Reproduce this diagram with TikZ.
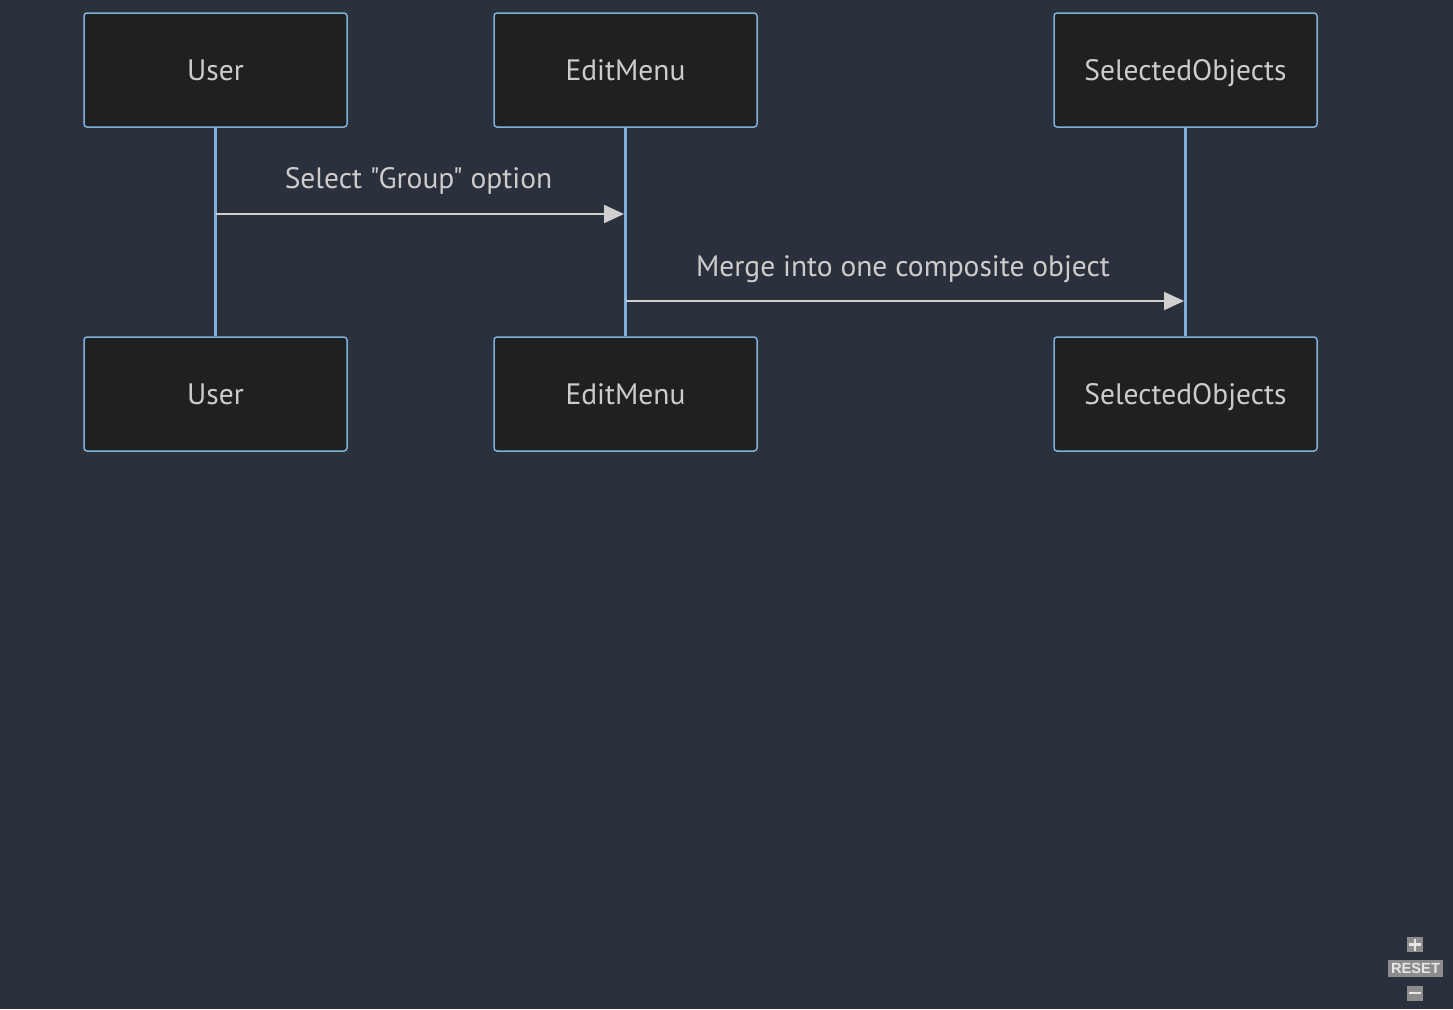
\documentclass[tikz,border=0pt]{standalone}
\usepackage{fontspec}
\defaultfontfeatures{}
\defaultfontfeatures[\rmfamily]{}
\setmainfont{PT Sans}
\newfontfamily\ctrlfont{Liberation Sans}
\usetikzlibrary{arrows.meta}
\definecolor{bg}{HTML}{2A303C}
\definecolor{boxfill}{HTML}{1F2020}
\definecolor{boxline}{HTML}{81B1DB}
\definecolor{txt}{HTML}{CCCCCC}
\definecolor{msg}{HTML}{D0D0D0}
\definecolor{ctrl}{HTML}{8C8C8C}
\definecolor{ctrltxt}{HTML}{E6E6E6}
\begin{document}
\begin{tikzpicture}[x=1pt,y=-1pt,
  actor/.style={draw=boxline,line width=1.5pt,fill=boxfill,rounded corners=3pt,
    minimum width=263pt,minimum height=114pt,text=txt,font=\fontsize{29.5}{34}\selectfont,
    text height=24pt,text depth=3.4pt},
  lifeline/.style={draw=boxline,line width=3pt},
  msgline/.style={draw=msg,line width=2pt,-{Triangle[length=20pt,width=18pt]}},
  msglabel/.style={text=txt,font=\fontsize{29.5}{34}\selectfont,text height=24pt,text depth=3.4pt},
  ctrlbox/.style={fill=ctrl,text=ctrltxt,inner sep=0pt,font=\ctrlfont\bfseries\fontsize{14.7}{15}\selectfont}]
\fill[bg] (0,0) rectangle (1453,1009);
\useasboundingbox (0,0) rectangle (1453,1009);
\node[actor] (u1) at (215.5,70) {User};
\node[actor] (e1) at (625.5,70) {EditMenu};
\node[actor] (s1) at (1185.5,70) {SelectedObjects};
\node[actor] (u2) at (215.5,394) {User};
\node[actor] (e2) at (625.5,394) {EditMenu};
\node[actor] (s2) at (1185.5,394) {SelectedObjects};
\draw[lifeline] (u1.south) -- (u2.north);
\draw[lifeline] (e1.south) -- (e2.north);
\draw[lifeline] (s1.south) -- (s2.north);
\coordinate (a1s) at (216,214);
\coordinate (a1e) at (624,214);
\coordinate (a2s) at (626,301);
\coordinate (a2e) at (1184,301);
\draw[msgline] (a1s) -- (a1e);
\draw[msgline] (a2s) -- (a2e);
\node[msglabel] (l1) at (418.5,178) {Select "Group" option};
\node[msglabel] (l2) at (903,266) {Merge into one composite object};
\node[ctrlbox,minimum width=16pt,minimum height=15pt] (plus) at (1415,944.5) {};
\draw[ctrltxt,line width=2.5pt] (1409,944.5) -- (1421,944.5) (1415,938.5) -- (1415,950.5);
\node[ctrlbox,minimum width=55pt,minimum height=17pt,text height=10.5pt,text depth=0pt] (reset) at (1415.5,968.5) {RESET};
\node[ctrlbox,minimum width=16pt,minimum height=15pt] (minus) at (1415,993) {};
\draw[ctrltxt,line width=2.5pt] (1409,993) -- (1421,993);
\end{tikzpicture}
\end{document}
